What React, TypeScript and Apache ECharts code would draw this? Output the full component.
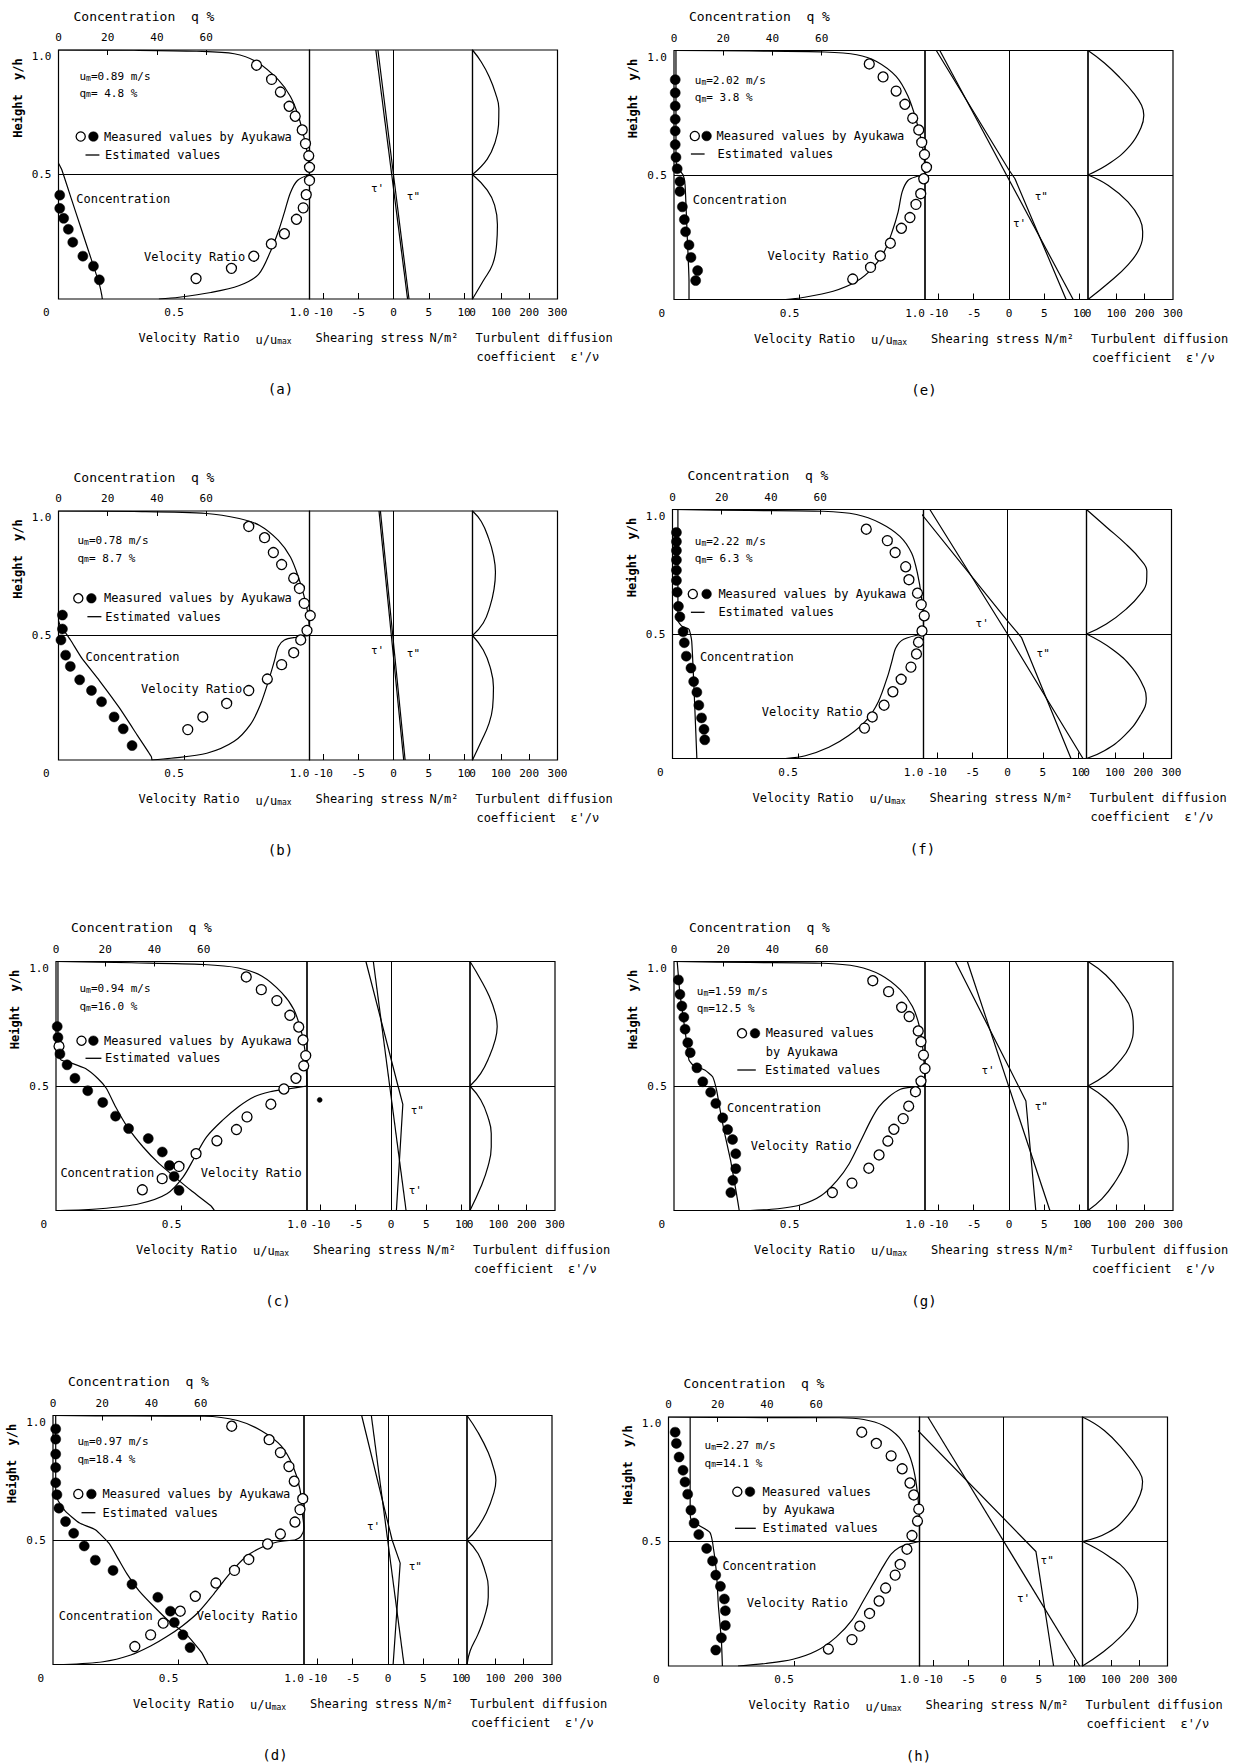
import React, { useEffect, useRef } from "react";
import * as echarts from "echarts";

const FONT = "'DejaVu Sans Mono', 'Liberation Mono', monospace";
const INK = "#000000";

// ---- axis ticks ----
const velTicks = [0, 0.5, 1];
const velInnerTicks = [0.5];
const concTicks = [0, 20, 40, 60];
const concInnerTicks = [20, 40, 60];
const shearTicks = [-10, -5, 0, 5, 10];
const shearInnerTicks = [-10, -5, 5, 10];
const turbTicks = [0, 100, 200, 300];
const turbInnerTicks = [100, 200];
const heightTicks = [0.5, 1];
const VEL_RANGE = [0, 1];
const CONC_RANGE = [0, 102];
const SHEAR_RANGE = [-11.9, 11.2];
const TURB_RANGE = [0, 300];

// ---- panel (a) ----
const A_velMeas = [[0.789,0.939],[0.849,0.882],[0.884,0.831],[0.919,0.774],[0.943,0.734],[0.971,0.679],[0.984,0.624],[0.997,0.575],[1.0,0.529],[1.0,0.476],[0.987,0.419],[0.975,0.366],[0.948,0.32],[0.9,0.262],[0.848,0.221],[0.778,0.172],[0.689,0.123],[0.548,0.082]];
const A_velEstUp = [[0,1.0],[0.3,0.999],[0.55,0.995],[0.7,0.985],[0.79,0.952],[0.876,0.88],[0.924,0.813],[0.956,0.734],[0.98,0.642],[0.995,0.562],[1.0,0.5]];
const A_velEstLow = [[1.0,0.5],[0.952,0.476],[0.924,0.427],[0.9,0.348],[0.876,0.272],[0.845,0.192],[0.797,0.099],[0.718,0.053],[0.607,0.026],[0.48,0.007],[0.4,0.0]];
const A_concMeas = [[0.5,0.417],[0.5,0.364],[2.1,0.324],[4.0,0.28],[5.8,0.228],[9.9,0.172],[14.2,0.132],[16.6,0.077]];
const A_concEst = [[0,0.545],[1.3,0.52],[5.3,0.4],[9.3,0.28],[13.3,0.16],[16.6,0.06],[17.6,0.015],[17.8,0]];
const A_tau1 = [[-2.5,1.0],[2.0,0]];
const A_tau2 = [[-2.2,1.0],[0,0.5],[2.2,0]];
const A_turbUp = [[0,1.0],[31,0.952],[59,0.893],[81,0.827],[93,0.765],[92,0.7],[80,0.63],[52,0.562],[0,0.5]];
const A_turbLow = [[0,0.5],[52,0.437],[78,0.377],[88,0.298],[85,0.218],[71,0.139],[38,0.073],[0,0]];

// ---- panel (b) ----
const B_velMeas = [[0.758,0.938],[0.821,0.893],[0.856,0.833],[0.889,0.785],[0.937,0.73],[0.96,0.689],[0.979,0.629],[1.003,0.58],[0.99,0.52],[0.965,0.482],[0.937,0.431],[0.889,0.383],[0.832,0.325],[0.758,0.279],[0.67,0.227],[0.575,0.173],[0.515,0.122]];
const B_velEstUp = [[0,1.0],[0.3,0.998],[0.59,0.99],[0.72,0.97],[0.8,0.943],[0.876,0.882],[0.924,0.815],[0.956,0.734],[0.98,0.652],[0.996,0.571],[1.0,0.5]];
const B_velEstLow = [[1.0,0.5],[0.948,0.493],[0.9,0.482],[0.876,0.455],[0.861,0.401],[0.837,0.319],[0.805,0.224],[0.765,0.143],[0.7,0.075],[0.591,0.027],[0.448,0.007],[0.37,0]];
const B_concMeas = [[1.6,0.582],[1.6,0.526],[1.0,0.482],[2.9,0.421],[4.8,0.376],[8.6,0.322],[13.4,0.279],[17.5,0.234],[22.6,0.173],[26.3,0.125],[29.9,0.058]];
const B_concEst = [[0,0.56],[0.5,0.545],[5.0,0.48],[9.4,0.41],[16.6,0.319],[24.7,0.21],[32,0.1],[37.7,0.014],[38,0]];
const B_tau1 = [[-2.05,1.0],[1.45,0]];
const B_tau2 = [[-1.85,1.0],[1.65,0]];
const B_turbUp = [[0,1.0],[31,0.958],[57,0.89],[74,0.822],[81,0.754],[76,0.686],[62,0.618],[38,0.55],[0,0.5]];
const B_turbLow = [[0,0.5],[38,0.442],[62,0.374],[74,0.292],[71,0.211],[57,0.143],[31,0.075],[0,0]];

// ---- panel (c) ----
const C_velMeas = [[0.758,0.938],[0.818,0.887],[0.88,0.843],[0.932,0.784],[0.967,0.737],[0.984,0.685],[0.995,0.622],[0.987,0.581],[0.956,0.531],[0.908,0.488],[0.856,0.427],[0.761,0.376],[0.719,0.325],[0.641,0.28],[0.558,0.228],[0.49,0.177],[0.423,0.128],[0.344,0.083],[0.012,0.66]];
const C_velEstUp = [[0,1.0],[0.3,0.995],[0.59,0.988],[0.727,0.974],[0.821,0.941],[0.9,0.874],[0.948,0.806],[0.979,0.712],[0.995,0.618],[0.998,0.551],[1.0,0.5]];
const C_velEstLow = [[1.0,0.5],[0.916,0.487],[0.853,0.477],[0.79,0.457],[0.727,0.417],[0.664,0.363],[0.6,0.296],[0.553,0.215],[0.506,0.134],[0.442,0.067],[0.332,0.027],[0.174,0.007],[0.016,0]];
const C_concMeas = [[0.5,0.739],[0.8,0.695],[1.6,0.629],[4.5,0.585],[7.7,0.531],[12.9,0.481],[19.0,0.434],[24.2,0.379],[29.5,0.329],[37.5,0.289],[43.2,0.235],[46.1,0.181],[48.0,0.137],[50.0,0.081]];
const C_concEst = [[0.8,1.0],[0.8,0.64],[2.0,0.605],[6.0,0.593],[12,0.57],[17,0.53],[20.5,0.49],[24.2,0.417],[29,0.336],[35.4,0.255],[41.9,0.188],[48.3,0.134],[54.8,0.081],[62.8,0.02],[64.4,0]];
const C_tau1 = [[-2.5,1.0],[2.14,0]];
const C_tau2 = [[-3.55,1.0],[1.0,0.5],[1.68,0.426],[0.77,0]];
const C_stray = [[-10.1,0.444]];
const C_turbUp = [[0,1.0],[38,0.927],[68,0.86],[89,0.793],[96,0.739],[89,0.685],[68,0.618],[38,0.551],[0,0.5]];
const C_turbLow = [[0,0.5],[38,0.444],[63,0.376],[75,0.309],[75,0.255],[63,0.175],[38,0.094],[0,0]];

// ---- panel (d) ----
const D_velMeas = [[0.712,0.957],[0.861,0.903],[0.906,0.851],[0.94,0.795],[0.961,0.736],[0.995,0.666],[0.984,0.622],[0.964,0.572],[0.906,0.524],[0.855,0.484],[0.78,0.422],[0.723,0.378],[0.649,0.327],[0.567,0.274],[0.507,0.214],[0.439,0.166],[0.389,0.119],[0.326,0.072]];
const D_velEstUp = [[0,1.0],[0.3,0.998],[0.602,0.997],[0.735,0.98],[0.83,0.939],[0.909,0.878],[0.956,0.797],[0.984,0.703],[0.995,0.595],[1.0,0.547],[0.987,0.514],[0.964,0.5]];
const D_velEstLow = [[0.964,0.5],[0.893,0.492],[0.83,0.47],[0.767,0.432],[0.704,0.365],[0.641,0.284],[0.578,0.209],[0.515,0.155],[0.452,0.111],[0.389,0.074],[0.31,0.038],[0.2,0.011],[0.043,0]];
const D_concMeas = [[1.1,0.946],[1.1,0.905],[1.1,0.845],[1.1,0.791],[1.1,0.73],[1.6,0.682],[2.4,0.628],[5.1,0.574],[8.4,0.527],[12.7,0.476],[17.2,0.419],[24.4,0.378],[32.1,0.322],[42.6,0.27],[47.7,0.214],[49.3,0.169],[52.8,0.119],[55.7,0.068]];
const D_concEst = [[1.1,1.0],[1.1,0.7],[1.9,0.662],[5.1,0.615],[10.8,0.568],[17.2,0.541],[22.8,0.486],[26.8,0.419],[30.0,0.365],[34.9,0.297],[41.3,0.23],[47.7,0.169],[54.1,0.122],[60.5,0.047],[63.0,0]];
const D_tau1 = [[-2.36,1.0],[2.27,0]];
const D_tau2 = [[-3.73,1.0],[0.59,0.5],[1.73,0.407],[0.73,0]];
const D_turbUp = [[0,1.0],[39,0.932],[75,0.851],[96,0.78],[102,0.74],[95,0.69],[68,0.608],[32,0.541],[0,0.5]];
const D_turbLow = [[0,0.5],[39,0.446],[63,0.378],[75,0.311],[75,0.27],[61,0.189],[39,0.122],[11,0.054],[0,0]];

// ---- panel (e) ----
const E_velMeas = [[0.778,0.946],[0.833,0.894],[0.885,0.837],[0.92,0.784],[0.951,0.728],[0.975,0.681],[0.987,0.631],[0.998,0.582],[1.006,0.531],[0.995,0.485],[0.983,0.425],[0.964,0.382],[0.94,0.329],[0.906,0.286],[0.862,0.226],[0.822,0.175],[0.783,0.129],[0.712,0.082]];
const E_velEstUp = [[0,1.0],[0.3,0.998],[0.6,0.994],[0.728,0.983],[0.807,0.956],[0.885,0.896],[0.932,0.817],[0.964,0.724],[0.987,0.631],[0.998,0.551],[1.0,0.5]];
const E_velEstLow = [[1.0,0.5],[0.964,0.493],[0.932,0.478],[0.909,0.432],[0.893,0.352],[0.869,0.272],[0.838,0.193],[0.791,0.126],[0.728,0.073],[0.634,0.033],[0.508,0.007],[0.445,0]];
const E_concMeas = [[0.5,0.883],[0.5,0.83],[0.5,0.777],[0.5,0.724],[0.5,0.677],[0.5,0.622],[0.8,0.571],[1.3,0.525],[2.4,0.474],[2.4,0.434],[3.4,0.372],[4.2,0.321],[4.7,0.272],[6.1,0.219],[6.9,0.169],[9.6,0.116],[8.8,0.076]];
const E_concEst = [[0.8,1.0],[0.8,0.56],[1.5,0.53],[3.7,0.5],[4.5,0.46],[5.3,0.272],[6.1,0.073],[6.1,0]];
const E_tau1 = [[-9.8,1.0],[9.1,0]];
const E_tau2 = [[-10.3,1.0],[0,0.52],[0.85,0.485],[8.1,0]];
const E_turbUp = [[0,1.0],[58,0.95],[113,0.89],[160,0.83],[189,0.78],[197,0.74],[187,0.69],[150,0.62],[80,0.55],[0,0.5]];
const E_turbLow = [[0,0.5],[72,0.458],[141,0.392],[182,0.325],[193,0.272],[182,0.206],[141,0.139],[72,0.066],[0,0]];

// ---- panel (f) ----
const F_velMeas = [[0.772,0.921],[0.856,0.875],[0.887,0.827],[0.929,0.77],[0.942,0.718],[0.976,0.664],[0.991,0.618],[1.003,0.573],[0.994,0.512],[0.98,0.467],[0.972,0.42],[0.95,0.367],[0.911,0.318],[0.878,0.268],[0.843,0.214],[0.796,0.167],[0.765,0.122]];
const F_velEstUp = [[0,1.0],[0.3,0.996],[0.6,0.993],[0.733,0.98],[0.827,0.946],[0.906,0.892],[0.953,0.824],[0.976,0.743],[0.992,0.648],[1.0,0.553],[1.0,0.5]];
const F_velEstLow = [[1.0,0.5],[0.921,0.479],[0.89,0.445],[0.874,0.39],[0.859,0.336],[0.82,0.228],[0.772,0.153],[0.702,0.092],[0.623,0.045],[0.529,0.011],[0.45,0]];
const F_concMeas = [[1.6,0.908],[1.6,0.871],[1.6,0.835],[1.6,0.797],[1.6,0.756],[1.6,0.715],[1.9,0.668],[2.4,0.611],[3.0,0.569],[4.3,0.509],[4.8,0.465],[5.6,0.411],[7.5,0.363],[8.6,0.309],[9.9,0.266],[10.7,0.214],[11.8,0.163],[12.8,0.117],[13.1,0.075]];
const F_concEst = [[2.2,1.0],[2.2,0.553],[4.0,0.53],[6.7,0.519],[7.8,0.472],[8.8,0.268],[9.9,0]];
const F_tau1 = [[-11.0,1.0],[0,0.5],[10.7,0]];
const F_tau2 = [[-12.7,1.0],[0,0.553],[2.0,0.485],[9.0,0]];
const F_turbUp = [[0,1.0],[70,0.93],[140,0.86],[190,0.8],[213,0.752],[212,0.71],[190,0.66],[140,0.6],[70,0.54],[0,0.5]];
const F_turbLow = [[0,0.5],[92,0.438],[162,0.363],[204,0.282],[211,0.241],[190,0.173],[134,0.092],[63,0.031],[0,0]];

// ---- panel (g) ----
const G_velMeas = [[0.792,0.923],[0.855,0.879],[0.907,0.816],[0.937,0.779],[0.973,0.721],[0.984,0.678],[0.994,0.624],[1.0,0.57],[0.984,0.519],[0.962,0.477],[0.935,0.419],[0.913,0.369],[0.876,0.326],[0.852,0.279],[0.817,0.223],[0.776,0.17],[0.709,0.11],[0.631,0.072]];
const G_velEstUp = [[0,1.0],[0.3,0.996],[0.595,0.993],[0.729,0.98],[0.824,0.946],[0.902,0.886],[0.95,0.819],[0.978,0.738],[0.992,0.644],[0.998,0.564],[1.0,0.5]];
const G_velEstLow = [[1.0,0.5],[0.957,0.497],[0.902,0.487],[0.855,0.456],[0.816,0.416],[0.784,0.362],[0.745,0.282],[0.698,0.188],[0.65,0.121],[0.587,0.06],[0.509,0.024],[0.414,0.007],[0.304,0]];
const G_concMeas = [[1.8,0.926],[2.4,0.868],[3.2,0.821],[4.0,0.776],[4.5,0.728],[5.6,0.674],[6.6,0.634],[9.3,0.573],[11.7,0.517],[14.9,0.475],[17.0,0.43],[19.8,0.372],[21.8,0.325],[23.8,0.285],[25.1,0.228],[25.1,0.168],[23.9,0.121],[23.1,0.072]];
const G_concEst = [[1.3,1.0],[2.4,0.872],[3.7,0.779],[5.0,0.685],[6.1,0.604],[7.7,0.584],[12.5,0.564],[15.7,0.537],[17.3,0.483],[19.0,0.389],[20.6,0.309],[23.0,0.201],[25.4,0.067],[26.5,0]];
const G_tau1 = [[-5.9,1.0],[5.8,0]];
const G_tau2 = [[-7.6,1.0],[0,0.575],[2.4,0.44],[3.8,0]];
const G_turbUp = [[0,1.0],[63,0.946],[119,0.872],[153,0.805],[160,0.738],[146,0.658],[105,0.591],[63,0.544],[0,0.5]];
const G_turbLow = [[0,0.5],[63,0.449],[105,0.396],[137,0.322],[142,0.268],[130,0.188],[91,0.107],[49,0.047],[0,0]];

// ---- panel (h) ----
const H_velMeas = [[0.77,0.939],[0.828,0.894],[0.887,0.844],[0.931,0.792],[0.962,0.735],[0.977,0.687],[0.997,0.63],[0.992,0.582],[0.97,0.524],[0.95,0.469],[0.923,0.408],[0.903,0.365],[0.865,0.313],[0.839,0.261],[0.801,0.211],[0.762,0.16],[0.731,0.106],[0.637,0.068]];
const H_velEstUp = [[0,1.0],[0.3,0.998],[0.68,0.997],[0.778,0.99],[0.856,0.966],[0.919,0.918],[0.958,0.85],[0.981,0.769],[0.994,0.673],[1.0,0.578],[1.0,0.5]];
const H_velEstLow = [[1.0,0.5],[0.958,0.49],[0.919,0.476],[0.887,0.449],[0.856,0.401],[0.825,0.347],[0.778,0.265],[0.731,0.184],[0.668,0.116],[0.59,0.061],[0.496,0.027],[0.387,0.01],[0.277,0]];
const H_concMeas = [[2.7,0.939],[3.2,0.894],[4.3,0.839],[5.9,0.786],[6.7,0.739],[7.8,0.69],[9.1,0.626],[10.4,0.574],[12.3,0.528],[15.5,0.472],[17.9,0.422],[19.2,0.365],[21.1,0.32],[22.7,0.269],[23.1,0.222],[23.1,0.163],[21.5,0.113],[19.2,0.064]];
const H_concEst = [[8.8,1.0],[8.8,0.63],[9.1,0.59],[12.3,0.565],[16.8,0.537],[17.9,0.497],[19.5,0.374],[20.3,0.238],[21.5,0.102],[21.9,0]];
const H_tau1 = [[-10.7,1.0],[10.8,0]];
const H_tau2 = [[-14.0,1.0],[4.6,0.46],[7.1,0]];
const H_turbUp = [[0,1.0],[77,0.946],[147,0.864],[198,0.785],[212,0.741],[204,0.69],[160,0.605],[91,0.537],[0,0.5]];
const H_turbLow = [[0,0.5],[91,0.442],[160,0.374],[191,0.293],[195,0.252],[181,0.184],[133,0.116],[63,0.048],[0,0]];

// ---- per-panel captions ----
const panelIds = ["a", "b", "c", "d", "e", "f", "g", "h"];
const flowVelocity = ["0.89", "0.78", "0.94", "0.97", "2.02", "2.22", "1.59", "2.27"];
const meanConcentration = [" 4.8", " 8.7", "16.0", "18.4", " 3.8", " 6.3", "12.5", "14.1"];

const panelData = [
  { velMeas: A_velMeas, velUp: A_velEstUp, velLow: A_velEstLow, concMeas: A_concMeas, concEst: A_concEst, tau1: A_tau1, tau2: A_tau2, turbUp: A_turbUp, turbLow: A_turbLow },
  { velMeas: B_velMeas, velUp: B_velEstUp, velLow: B_velEstLow, concMeas: B_concMeas, concEst: B_concEst, tau1: B_tau1, tau2: B_tau2, turbUp: B_turbUp, turbLow: B_turbLow },
  { velMeas: C_velMeas, velUp: C_velEstUp, velLow: C_velEstLow, concMeas: C_concMeas, concEst: C_concEst, tau1: C_tau1, tau2: C_tau2, turbUp: C_turbUp, turbLow: C_turbLow, stray: C_stray },
  { velMeas: D_velMeas, velUp: D_velEstUp, velLow: D_velEstLow, concMeas: D_concMeas, concEst: D_concEst, tau1: D_tau1, tau2: D_tau2, turbUp: D_turbUp, turbLow: D_turbLow },
  { velMeas: E_velMeas, velUp: E_velEstUp, velLow: E_velEstLow, concMeas: E_concMeas, concEst: E_concEst, tau1: E_tau1, tau2: E_tau2, turbUp: E_turbUp, turbLow: E_turbLow },
  { velMeas: F_velMeas, velUp: F_velEstUp, velLow: F_velEstLow, concMeas: F_concMeas, concEst: F_concEst, tau1: F_tau1, tau2: F_tau2, turbUp: F_turbUp, turbLow: F_turbLow },
  { velMeas: G_velMeas, velUp: G_velEstUp, velLow: G_velEstLow, concMeas: G_concMeas, concEst: G_concEst, tau1: G_tau1, tau2: G_tau2, turbUp: G_turbUp, turbLow: G_turbLow },
  { velMeas: H_velMeas, velUp: H_velEstUp, velLow: H_velEstLow, concMeas: H_concMeas, concEst: H_concEst, tau1: H_tau1, tau2: H_tau2, turbUp: H_turbUp, turbLow: H_turbLow },
];

// ---- layout (pixels) ----
const PW = [251, 163, 85];
const PH = 249;
const frames = [
  [58.5, 50], [58.5, 511], [56, 961.5], [53, 1415.5],
  [674, 50.5], [672.5, 509.5], [674, 961.5], [668.5, 1417],
];
const textLayout = [
  { tL: 59, tT: 50.5, um: [20.5, 24.5], qm: [20.5, 41], open: [21.7, 86], filled: [34.4, 86], t1x: 45, line: [26.5, 40.4, 104.5], t2x: 46, conc: [17.3, 148], vel: [85, 206], tau1: [318.6, 137.8], tau2: [354.4, 146.2] },
  { tL: 59, tT: 511, um: [18.5, 28.3], qm: [18.5, 45.7], open: [19.3, 87.3], filled: [32.4, 87.3], t1x: 45, line: [28.4, 42.4, 105.7], t2x: 46.3, conc: [26.5, 145.7], vel: [82, 178.3], tau1: [318.6, 139.7], tau2: [354.4, 142.3] },
  { tL: 59, tT: 961, um: [20.5, 26.3], qm: [20.5, 44], open: [22.5, 79.7], filled: [34.4, 79.7], t1x: 45, line: [26.5, 42.4, 97.3], t2x: 46, conc: [1.4, 211.7], vel: [141.7, 211.7], tau1: [356.3, 229], tau2: [358.3, 149] },
  { tL: 59, tT: 1416, um: [18.5, 24], qm: [18.5, 42.3], open: [19.3, 78], filled: [32.4, 78], t1x: 43.5, line: [22.5, 36.4, 96.7], t2x: 43.5, conc: [-0.2, 200], vel: [137.7, 200], tau1: [314.6, 110.7], tau2: [356.3, 150.7] },
  { tL: 676, tT: 50.5, um: [18.8, 28.5], qm: [18.8, 45.5], open: [18.8, 85.5], filled: [30.6, 85.5], t1x: 40.5, line: [14.9, 28.6, 103.5], t2x: 41.6, conc: [16.8, 149.5], vel: [91.6, 205], tau1: [343.6, 173], tau2: [365.3, 146] },
  { tL: 676, tT: 509.5, um: [18.8, 30.5], qm: [18.8, 47.8], open: [16.8, 84.5], filled: [30.6, 84.5], t1x: 42.4, line: [14.9, 28.6, 102.8], t2x: 42.4, conc: [23.9, 147.8], vel: [85.7, 202.2], tau1: [306.2, 113.8], tau2: [367.2, 143.8] },
  { tL: 676, tT: 961.5, um: [20.8, 28.5], qm: [20.8, 45.2], open: [66, 71.8], filled: [79, 71.8], t1x: 89.7, byY: 90.2, line: [61.3, 79.8, 108.5], t2x: 88.9, conc: [51.1, 146.8], vel: [74.7, 184.5], tau1: [312.1, 108.5], tau2: [365.3, 145.2] },
  { tL: 672, tT: 1417, um: [32.6, 27], qm: [32.6, 44.7], open: [65.3, 74.7], filled: [78, 74.7], t1x: 90.5, byY: 93, line: [63, 83.8, 111.3], t2x: 90.5, conc: [50.4, 149], vel: [74.8, 186.3], tau1: [351.5, 181.3], tau2: [375.2, 143] },
];

function txt(x: number, y: number, text: string, size = 12, align = "left", extra: any = {}, rot = 0) {
  return {
    type: "text", x, y, rotation: rot, silent: true, z: 20,
    style: { text, fill: INK, fontFamily: FONT, fontSize: size, align, verticalAlign: "middle", textAlign: align, textVerticalAlign: "middle", ...extra },
  };
}
const subRich = {
  n: { fontFamily: FONT, fontSize: 11, fill: INK, color: INK, lineHeight: 14, verticalAlign: "bottom" },
  s: { fontFamily: FONT, fontSize: 8, fill: INK, color: INK, lineHeight: 8, verticalAlign: "bottom" },
};
const subRich12 = {
  n: { fontFamily: FONT, fontSize: 12, fill: INK, color: INK, lineHeight: 15, verticalAlign: "bottom" },
  s: { fontFamily: FONT, fontSize: 8, fill: INK, color: INK, lineHeight: 8, verticalAlign: "bottom" },
};

function labelStyle(size = 11) {
  return { fontFamily: FONT, fontSize: size, color: INK };
}

function buildOption() {
  const grid: any[] = [];
  const xAxis: any[] = [];
  const yAxis: any[] = [];
  const series: any[] = [];
  const graphic: any[] = [];

  const lineS = (xi: number, yi: number, data: any, extra: any = {}) => ({
    type: "line", xAxisIndex: xi, yAxisIndex: yi, data, symbol: "none", showSymbol: false,
    lineStyle: { color: INK, width: 1.2 }, silent: true, animation: false, z: 3, emphasis: { disabled: true }, ...extra,
  });
  const markLines = (data: any[]) => ({
    silent: true, symbol: ["none", "none"], label: { show: false }, animation: false,
    lineStyle: { color: INK, width: 1, type: "solid" }, emphasis: { disabled: true }, data,
  });
  const dotS = (xi: number, yi: number, data: any, filled: boolean, size = 10) => ({
    type: "scatter", xAxisIndex: xi, yAxisIndex: yi, data, symbol: "circle", symbolSize: size, clip: false, silent: true, z: 5,
    itemStyle: filled
      ? { color: INK, borderColor: INK, borderWidth: 0.5, opacity: 1 }
      : { color: "#fff", borderColor: INK, borderWidth: 1.3, opacity: 1 },
    emphasis: { disabled: true },
  });

  panelData.forEach((p: any, i: number) => {
    const [L, T] = frames[i];
    const B = T + PH;
    const gx = [L, L + PW[0], L + PW[0] + PW[1]];
    const g0 = grid.length;
    for (let k = 0; k < 3; k++) {
      grid.push({ left: gx[k], top: T, width: PW[k], height: PH, show: true, borderColor: INK, borderWidth: 1.2, backgroundColor: "transparent", containLabel: false });
    }
    const x0 = xAxis.length;
    xAxis.push({
      gridIndex: g0, type: "value", min: VEL_RANGE[0], max: VEL_RANGE[1], position: "bottom",
      axisLine: { show: false }, splitLine: { show: false },
      axisTick: { show: true, inside: true, length: 5, customValues: velInnerTicks, lineStyle: { color: INK } },
      axisLabel: {
        show: true, customValues: velTicks, align: "right", margin: 8, ...labelStyle(11),
        formatter: (v: number) => (v === 0 ? "{z|0}" : v === 1 ? "1.0" : String(v)),
        rich: { z: { padding: [0, 9, 0, 0], ...labelStyle(11) } },
      },
    });
    xAxis.push({
      gridIndex: g0, type: "value", min: CONC_RANGE[0], max: CONC_RANGE[1], position: "top",
      axisLine: { show: false }, splitLine: { show: false },
      axisTick: { show: true, inside: true, length: 5, customValues: concInnerTicks, lineStyle: { color: INK } },
      axisLabel: { show: true, customValues: concTicks, margin: 7, ...labelStyle(11) },
    });
    xAxis.push({
      gridIndex: g0 + 1, type: "value", min: SHEAR_RANGE[0], max: SHEAR_RANGE[1], position: "bottom",
      axisLine: { show: false }, splitLine: { show: false },
      axisTick: { show: true, inside: true, length: 6, customValues: shearInnerTicks, lineStyle: { color: INK } },
      axisLabel: { show: true, customValues: shearTicks, margin: 8, ...labelStyle(11) },
    });
    xAxis.push({
      gridIndex: g0 + 2, type: "value", min: TURB_RANGE[0], max: TURB_RANGE[1], position: "bottom",
      axisLine: { show: false }, splitLine: { show: false },
      axisTick: { show: true, inside: true, length: 6, customValues: turbInnerTicks, lineStyle: { color: INK } },
      axisLabel: { show: true, customValues: turbTicks, margin: 8, ...labelStyle(11) },
    });
    const y0 = yAxis.length;
    yAxis.push({
      gridIndex: g0, type: "value", min: 0, max: 1,
      axisLine: { show: false }, splitLine: { show: false }, axisTick: { show: false },
      axisLabel: {
        show: true, customValues: heightTicks, margin: 7, ...labelStyle(11),
        formatter: (v: number) => (v === 1 ? "{t|1.0}" : "0.5"),
        rich: { t: { padding: [13, 0, 0, 0], ...labelStyle(11) } },
      },
    });
    yAxis.push({ gridIndex: g0 + 1, type: "value", min: 0, max: 1, show: false });
    yAxis.push({ gridIndex: g0 + 2, type: "value", min: 0, max: 1, show: false });

    const smV = { smooth: 0.3 };
    const smT = { smooth: 0.45 };
    series.push(lineS(x0, y0, p.velUp, { ...smV, markLine: markLines([{ yAxis: 0.5 }]) }));
    series.push(lineS(x0, y0, p.velLow, smV));
    series.push(dotS(x0, y0, p.velMeas, false));
    series.push(lineS(x0 + 1, y0, p.concEst, { smooth: 0.15 }));
    series.push(dotS(x0 + 1, y0, p.concMeas, true));
    series.push(lineS(x0 + 2, y0 + 1, p.tau1, { clip: false, markLine: markLines([{ yAxis: 0.5 }, { xAxis: 0 }]) }));
    series.push(lineS(x0 + 2, y0 + 1, p.tau2, { clip: false }));
    if (p.stray) series.push(dotS(x0 + 2, y0 + 1, p.stray, true, 5));
    series.push(lineS(x0 + 3, y0 + 2, p.turbUp, { ...smT, markLine: markLines([{ yAxis: 0.5 }]) }));
    series.push(lineS(x0 + 3, y0 + 2, p.turbLow, smT));

    const lay: any = textLayout[i];
    const tx = (r: number) => lay.tL + r;
    const ty = (r: number) => lay.tT + r;
    graphic.push(txt(L + 15, T - 34, "Concentration  q %", 13));
    graphic.push(txt(L - 41, T + 48, "Height  y/h", 12, "center", { fontWeight: "bold" }, Math.PI / 2));
    graphic.push(txt(tx(lay.um[0]), ty(lay.um[1]), "{n|u}{s|m}{n|=" + flowVelocity[i] + " m/s}", 11, "left", { rich: subRich }));
    graphic.push(txt(tx(lay.qm[0]), ty(lay.qm[1]), "{n|q}{s|m}{n|=" + meanConcentration[i] + " %}", 11, "left", { rich: subRich }));
    graphic.push({ type: "circle", silent: true, z: 20, shape: { cx: tx(lay.open[0]), cy: ty(lay.open[1]), r: 4.6 }, style: { fill: "#fff", stroke: INK, lineWidth: 1.3 } });
    graphic.push({ type: "circle", silent: true, z: 20, shape: { cx: tx(lay.filled[0]), cy: ty(lay.filled[1]), r: 4.8 }, style: { fill: INK, stroke: INK, lineWidth: 0.5 } });
    if (lay.byY === undefined) {
      graphic.push(txt(tx(lay.t1x), ty(lay.open[1]), "Measured values by Ayukawa", 12));
    } else {
      graphic.push(txt(tx(lay.t1x), ty(lay.open[1]), "Measured values", 12));
      graphic.push(txt(tx(lay.t1x), ty(lay.byY), "by Ayukawa", 12));
    }
    graphic.push({ type: "line", silent: true, z: 20, shape: { x1: tx(lay.line[0]), y1: ty(lay.line[2]), x2: tx(lay.line[1]), y2: ty(lay.line[2]) }, style: { stroke: INK, lineWidth: 1.3 } });
    graphic.push(txt(tx(lay.t2x), ty(lay.line[2]), "Estimated values", 12));
    graphic.push(txt(tx(lay.conc[0]), ty(lay.conc[1]), "Concentration", 12));
    graphic.push(txt(tx(lay.vel[0]), ty(lay.vel[1]), "Velocity Ratio", 12));
    graphic.push(txt(tx(lay.tau1[0]), ty(lay.tau1[1]), "τ'", 11, "center"));
    graphic.push(txt(tx(lay.tau2[0]), ty(lay.tau2[1]), "τ\"", 11, "center"));

    graphic.push(txt(L + 80, B + 39, "Velocity Ratio", 12));
    graphic.push(txt(L + 197, B + 39, "{n|u/u}{s|max}", 12, "left", { rich: subRich12 }));
    graphic.push(txt(L + 257, B + 39, "Shearing stress", 12));
    graphic.push(txt(L + 371, B + 39, "N/m²", 12));
    graphic.push(txt(L + 417, B + 39, "Turbulent diffusion", 12));
    graphic.push(txt(L + 418, B + 58, "coefficient  ε'/ν", 12));
    graphic.push(txt(L + (i < 4 ? 222 : 250), B + 90, "(" + panelIds[i] + ")", 14, "center"));
  });

  return {
    animation: false,
    backgroundColor: "#ffffff",
    textStyle: { fontFamily: FONT },
    grid, xAxis, yAxis, series, graphic,
  };
}

export default function App() {
  const ref = useRef<HTMLDivElement>(null);
  useEffect(() => {
    document.body.style.margin = "0";
    const chart = echarts.init(ref.current as HTMLDivElement, null, { renderer: "svg", width: 1234, height: 1764 });
    chart.setOption(buildOption() as any);
    return () => chart.dispose();
  }, []);
  return (
    <div
      ref={ref}
      style={{ position: "absolute", left: 0, top: 0, width: 1234, height: 1764, background: "#fff" }}
    />
  );
}
